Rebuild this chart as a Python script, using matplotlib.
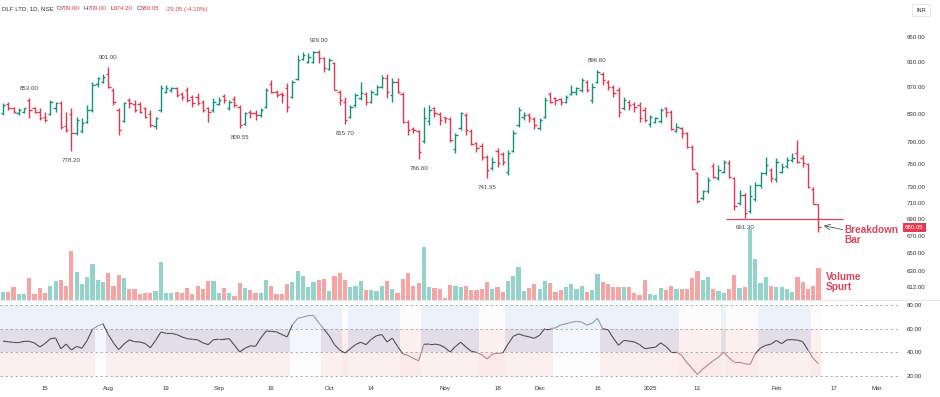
import numpy as np
import matplotlib
matplotlib.use('Agg')
import matplotlib.pyplot as plt
from matplotlib.collections import LineCollection
from matplotlib.lines import Line2D
from matplotlib.ticker import NullLocator
from matplotlib.transforms import blended_transform_factory

plt.rcParams['font.family'] = ['Liberation Sans', 'DejaVu Sans']

# DLF LTD daily bars, 3 Jul 2024 -> 12 Feb 2025
opens = [
    832, 845, 838, 831, 833, 850, 838, 833, 826, 830,
    838, 846, 812, 830, 803, 806, 818, 835, 875, 878,
    890, 866, 836, 820, 850, 845, 845, 838, 830, 812,
    835, 863, 865, 868, 860, 866, 855, 855, 848, 838,
    835, 845, 857, 838, 852, 840, 816, 833, 832, 828,
    840, 875, 863, 860, 868, 855, 882, 914, 909, 910,
    925, 915, 898, 908, 862, 848, 825, 843, 853, 860,
    848, 860, 870, 884, 858, 878, 860, 818, 809, 805,
    792, 820, 838, 830, 825, 823, 780, 810, 828, 806,
    788, 785, 770, 755, 778, 774, 750, 778, 814, 825,
    828, 823, 810, 825, 860, 853, 852, 848, 860, 862,
    866, 878, 850, 878, 890, 878, 870, 866, 838, 848,
    845, 843, 835, 815, 818, 820, 838, 833, 806, 810,
    802, 783, 748, 716, 725, 758, 742, 750, 762, 742,
    710, 720, 700, 715, 732, 748, 752, 740, 750, 757,
    765, 775, 768, 760, 728, 709]
highs = [
    845.5, 848, 840.6, 838, 839, 853, 840, 838, 833, 851,
    848, 849, 833, 838, 826, 823.4, 843, 878, 886, 891,
    901, 868, 838, 848, 853, 850.4, 848, 840.6, 835.6, 826,
    873, 873, 870.6, 870.6, 863, 870.6, 858, 860.5, 850.4, 840.6,
    853, 855.4, 860, 850.4, 857, 843, 833, 835.6, 835.6, 838,
    868, 880.8, 865.6, 863, 876, 880.8, 920, 925.8, 923, 927,
    929, 917.7, 915, 909.7, 865.6, 855.4, 843, 860.5, 878, 863,
    865.6, 873, 888.6, 891, 883.4, 883.4, 863, 821, 811.5, 806.7,
    840.6, 843, 840.6, 833, 826, 825.9, 802, 833, 830.7, 809,
    790.4, 788, 772.2, 770, 781.2, 776.7, 779, 806.7, 840.6, 833,
    830.7, 825.9, 823.4, 855.4, 863, 855.4, 853, 858, 873, 870.6,
    883.4, 880.8, 875.7, 896.6, 894, 880.8, 873, 870.6, 855.4, 850.4,
    848, 848, 840.6, 828.3, 825.9, 838, 840.6, 835.6, 816.3, 811.5,
    804.3, 785.8, 750, 726.4, 743.5, 761, 758.8, 765.5, 765.5, 743.5,
    726.4, 722.2, 732.8, 737, 750, 770, 754.4, 767.7, 761, 770,
    774.4, 792.7, 772.2, 761, 730.6, 709]
lows = [
    828, 835.6, 830.7, 828.3, 830.7, 823.4, 830.7, 821.5, 818.6, 828.3,
    833, 809, 804.3, 778.2, 799.7, 802, 816.3, 833, 870.6, 875.7,
    868, 843, 799.7, 818.6, 838, 833, 830.7, 823.4, 811.5, 809,
    833, 860.5, 863, 855.4, 850.4, 848, 840.6, 843, 833, 818.6,
    833, 843, 845.5, 835.6, 840.6, 809.55, 813.8, 823.4, 821, 825.9,
    838, 860.5, 855.4, 845.5, 833, 853, 880.8, 912.4, 907, 907,
    907, 894, 896.5, 865.6, 843, 815.7, 823.4, 840.6, 850.4, 843,
    845.5, 858, 868, 853, 848, 860.5, 816.3, 799.7, 802, 766.6,
    788, 813.8, 825.9, 813.8, 816.3, 790.4, 774.4, 806.7, 799.7, 785.8,
    776.7, 765.5, 741.95, 752.2, 756.6, 758.8, 745.7, 776.7, 811.5, 821,
    818.6, 809, 806.7, 823.4, 845.5, 843, 843, 845.5, 858, 858,
    863, 863, 845.5, 875.7, 873, 866, 855.4, 825.9, 835.6, 835.6,
    833, 818.6, 818.6, 811.5, 816.3, 816.3, 825.9, 806.7, 804.3, 795,
    781.2, 752.2, 709.7, 713.8, 722.2, 741.3, 739.2, 747.8, 741.3, 701.5,
    707.6, 691.3, 697.4, 711.8, 728.5, 745.7, 737, 737, 747.8, 754.4,
    763.3, 761, 756.6, 728.5, 708.5, 674.2]
closes = [
    843, 838, 833, 835.6, 838, 835.6, 833, 824.5, 821, 848,
    845.5, 811.5, 806.7, 802, 821, 816.3, 835.6, 873, 883.4, 886,
    870.6, 848, 806.7, 845.5, 845.5, 835.6, 833, 826, 813.8, 823.4,
    868, 868, 868, 858, 855.4, 850.4, 845.5, 845.5, 835.6, 833,
    848, 850.4, 850.4, 848, 843, 813.8, 830.7, 830.7, 828.3, 835.6,
    865.6, 863, 858, 858, 840.6, 878, 912.4, 920.4, 917.7, 925.8,
    915, 899, 912.4, 866, 850.4, 821, 840.6, 858, 860.5, 848,
    863, 870.6, 883.4, 863, 878, 863, 818, 806.7, 806.7, 776.7,
    823.4, 835.6, 830.7, 821, 823.4, 792.7, 799.7, 830.7, 806.7, 787,
    781.2, 770, 752.2, 763.3, 761, 763.3, 774.4, 802, 835.6, 828.3,
    823.4, 813.8, 821, 850.4, 848, 850.4, 848, 855.4, 863, 868,
    880.8, 865.6, 870.6, 894, 880.8, 870.6, 860.5, 833, 850.4, 843,
    840.6, 823.4, 821, 825.9, 823.4, 835.6, 833, 808, 811.5, 802,
    783.5, 754, 711.8, 724.3, 739.2, 743.5, 752.2, 763.3, 743.5, 705.6,
    720, 697.4, 718, 732.8, 747.8, 758.8, 741.3, 763.3, 756.6, 765.5,
    767.7, 763.3, 761, 730.6, 709.1, 680.05]
# volume, relative units
volume = [
    8.3, 8.3, 12.7, 6, 6, 21.7, 6, 11.7, 6.7, 14,
    19.3, 20, 14, 49.3, 28.3, 16, 23.3, 36, 20, 18.3,
    26.7, 14, 25, 21.7, 10.7, 10.7, 6, 7.3, 6.7, 9.3,
    38.3, 7.3, 7.3, 8.3, 7.3, 11.7, 6, 14, 10.7, 19.3,
    19.3, 7.3, 11.7, 6.7, 4, 16.7, 11.7, 10, 7.3, 6.7,
    20, 14, 6, 6, 16, 18.3, 29.3, 24, 13.3, 18.3,
    20, 20.7, 9.3, 24, 26.7, 20, 12.7, 14, 19.3, 10,
    10, 9.3, 14, 19.3, 10.7, 7.3, 20.7, 27.3, 14, 16.7,
    53.3, 13.3, 11.7, 10.7, 1.7, 15, 14, 12.7, 14, 10,
    10, 10.7, 18.3, 10.7, 12.7, 8.3, 19.3, 24, 33.3, 9.3,
    11.7, 16, 10.7, 19.3, 17.3, 8.3, 10, 12.7, 16, 10.7,
    14, 8.3, 10, 26, 18.3, 16, 12.7, 12.7, 13.3, 13.3,
    7.3, 5, 20, 6, 5, 11.7, 10, 14, 10.7, 10.7,
    10.7, 21.7, 29.3, 20, 23.3, 10.7, 9.3, 7.3, 10.7, 25,
    11.7, 13.3, 70.7, 40.7, 16.7, 23.3, 14, 13.3, 13.3, 10.7,
    8.3, 23.3, 18.3, 10.7, 14, 31.7]
rsi = [
    49.5, 48.9, 48.3, 48.2, 49.2, 49.3, 47.8, 44.5, 47.5, 51.5,
    52, 43, 47, 42, 45, 43.5, 50, 59.5, 62, 64,
    55, 48, 42.3, 47, 50.5, 49, 48.7, 47.5, 43.9, 50,
    57, 56, 56, 55, 53, 51.5, 51, 50.5, 48, 46.5,
    50.6, 51, 51, 51.5, 46, 40.3, 43.5, 45.5, 45.1, 52,
    57.8, 57.6, 57.2, 55, 53, 63, 68.5, 69.5, 70.8, 71,
    65, 59.5, 54, 46.5, 42, 39.5, 43, 46.5, 48.5, 46.5,
    51, 54, 55, 48.7, 52, 45, 38.8, 37.5, 35, 33,
    46.8, 47, 47, 46.3, 44, 40.3, 45, 48.5, 44.5, 41,
    40, 38, 34.5, 38.5, 39.2, 39.5, 47, 53.5, 55.5, 54,
    53, 51.8, 54.4, 60, 60, 60.5, 63, 64, 65.2, 66,
    65.5, 62.8, 64.5, 68.5, 59.8, 59, 52, 46, 50, 49.5,
    48.8, 46.5, 43.1, 43.8, 44.3, 48, 45, 40.5, 40.5, 37.5,
    31.5, 26.5, 21.5, 26, 29.5, 33, 36, 40, 35.5, 31.8,
    31.8, 30.5, 30, 39, 43.8, 45.9, 47, 50, 47.3, 50.5,
    50.7, 50.3, 49, 42, 35, 30.5]

price_ticks = [950, 910, 870, 830, 790, 760, 730, 710, 690, 670, 650, 630, 612]
rsi_ticks = [80, 60, 40, 20]
date_pos = [8, 20, 31, 41, 51, 62, 70, 84, 94, 102, 113, 123, 132, 147, 158, 166]
date_labels = ['15', 'Aug', '19', 'Sep', '16', 'Oct', '14', 'Nov', '18', 'Dec',
               '16', '2025', '13', 'Feb', '17', 'Mar']
swing_highs = [5, 20, 60, 113]
swing_lows = [13, 45, 65, 79, 92, 141]
breakdown_level = 690

GREEN = '#13917d'
RED = '#e0384f'
GREEN_V = '#93d3c9'
RED_V = '#f5a6a4'
TXT = '#333333'
NOTE = '#d9465b'

o = np.array(opens)
h = np.array(highs)
l = np.array(lows)
c = np.array(closes)
r = np.array(rsi)
x = np.arange(len(c))
up = c >= o
bar_col = np.where(up, GREEN, RED)
vol_col = np.where(up, GREEN_V, RED_V)

W, H = 940, 397
fig = plt.figure(figsize=(W / 100, H / 100), dpi=100)


def box(left, top, right, bottom):
    return [left / W, 1 - bottom / H, (right - left) / W, (bottom - top) / H]


xlim = (-0.57, 170.5)

# volume (behind)
axv = fig.add_axes(box(0, 18, 900, 300))
axv.bar(x, volume, width=0.8, color=vol_col, linewidth=0)
axv.set_ylim(0, 282)
axv.set_xlim(*xlim)
axv.axis('off')

# price
ax = fig.add_axes(box(0, 18, 900, 300))
ax.patch.set_alpha(0)
ax.set_yscale('log')
ax.vlines(x, l, h, colors=bar_col, lw=1.0)
ax.hlines(o, x - 0.45, x, colors=bar_col, lw=1.0)
ax.hlines(c, x, x + 0.45, colors=bar_col, lw=1.0)
ax.set_xlim(*xlim)
ax.set_ylim(598.6, 982.3)
ax.yaxis.tick_right()
ax.yaxis.set_minor_locator(NullLocator())
ax.set_yticks(price_ticks, [f'{v:.2f}' for v in price_ticks])
ax.tick_params(axis='y', length=0, pad=5, labelsize=4.4, colors=TXT)
ax.set_xticks([])
for s in ax.spines.values():
    s.set_visible(False)

for i in swing_highs:
    ax.annotate(f'{highs[i]:.2f}', (x[i], h[i]), xytext=(0, 7), textcoords='offset points',
                ha='center', va='center', fontsize=4.4, color='#444444')
for i in swing_lows:
    ax.annotate(f'{lows[i]:.2f}', (x[i], l[i]), xytext=(0, -7), textcoords='offset points',
                ha='center', va='center', fontsize=4.4, color='#444444')

ax.hlines(breakdown_level, 137.5, 159.7, colors=NOTE, lw=0.9)
ax.annotate('', xy=(x[-1] + 1.0, 682), xytext=(x[-1] + 4.6, 677.5),
            arrowprops=dict(arrowstyle='->', color='#555555', lw=0.6, shrinkA=0, shrinkB=0))
ax.text(x[-1] + 5.0, 671, 'Breakdown\nBar', ha='left', va='center', fontsize=7.2,
        fontweight='bold', color=NOTE, linespacing=1.0)
ax.text(x[-1] + 1.4, 618, 'Volume\nSpurt', ha='left', va='center', fontsize=7.2,
        fontweight='bold', color=NOTE, linespacing=1.0)

tr = blended_transform_factory(ax.transAxes, ax.transData)
ax.text(1 + 5 / 900, c[-1], f'{closes[-1]:.2f}', transform=tr, ha='left', va='center',
        fontsize=4.4, color='white',
        bbox=dict(boxstyle='square,pad=0.35', fc='#e8394f', ec='none'))

# RSI panel
axr = fig.add_axes(box(0, 300, 900, 382))
top_c, mid_c, bot_c = [], [], []
for v in r:
    if v > 60:
        top_c.append('#edf1fa'); mid_c.append('#f3f6fd'); bot_c.append('#fdfdfe')
    elif v < 40:
        top_c.append('#fdfcfc'); mid_c.append('#fdf1f0'); bot_c.append('#fce9e9')
    else:
        top_c.append('#edf1fa'); mid_c.append('#e2dde6'); bot_c.append('#fcefef')
axr.bar(x, 20, bottom=60, width=1.0, color=top_c, linewidth=0)
axr.bar(x, 20, bottom=40, width=1.0, color=mid_c, linewidth=0)
axr.bar(x, 20, bottom=20, width=1.0, color=bot_c, linewidth=0)
for v in rsi_ticks:
    axr.axhline(v, color='#a5a5a5', lw=0.6, ls=(0, (3, 3)))

pts = np.column_stack([x, r])
segs = np.stack([pts[:-1], pts[1:]], axis=1)
mean = (r[:-1] + r[1:]) / 2
seg_col = ['#8d9bb3' if m > 60 else ('#b98585' if m < 40 else '#505050') for m in mean]
axr.add_collection(LineCollection(segs, colors=seg_col, linewidths=0.8))

axr.set_xlim(*xlim)
axr.set_ylim(15.2, 83.9)
axr.yaxis.tick_right()
axr.set_yticks(rsi_ticks, [f'{v:.2f}' for v in rsi_ticks])
axr.set_xticks(date_pos, date_labels)
axr.tick_params(axis='y', length=0, pad=5, labelsize=4.4, colors=TXT)
axr.tick_params(axis='x', length=0, pad=3, labelsize=4.4, colors=TXT)
for s in axr.spines.values():
    s.set_visible(False)

fig.add_artist(Line2D([0, 1], [1 - 300 / H] * 2, color='#e4e4e4', lw=0.6))

# header
chg = closes[-1] - closes[-2]
hy = 1 - 9 / H
parts = [('DLF LTD, 1D, NSE', 2, TXT), ('O', 57, TXT), (f'{opens[-1]:.2f}', 60.5, RED),
         ('H', 83.5, TXT), (f'{highs[-1]:.2f}', 88, RED), ('L', 110.5, TXT),
         (f'{lows[-1]:.2f}', 114, RED), ('C', 136.5, TXT), (f'{closes[-1]:.2f}', 141, RED),
         (f'{chg:.2f} ({chg / closes[-2] * 100:.2f}%)', 165, RED)]
for txt, px, col in parts:
    fig.text(px / W, hy, txt, ha='left', va='center', fontsize=4.4, color=col)

fig.text(921 / W, 1 - 10 / H, 'INR', ha='center', va='center', fontsize=4, color=TXT,
         bbox=dict(boxstyle='square,pad=0.7', fc='white', ec='#e0e0e0', lw=0.5))

fig.savefig('out.png', dpi=100)
